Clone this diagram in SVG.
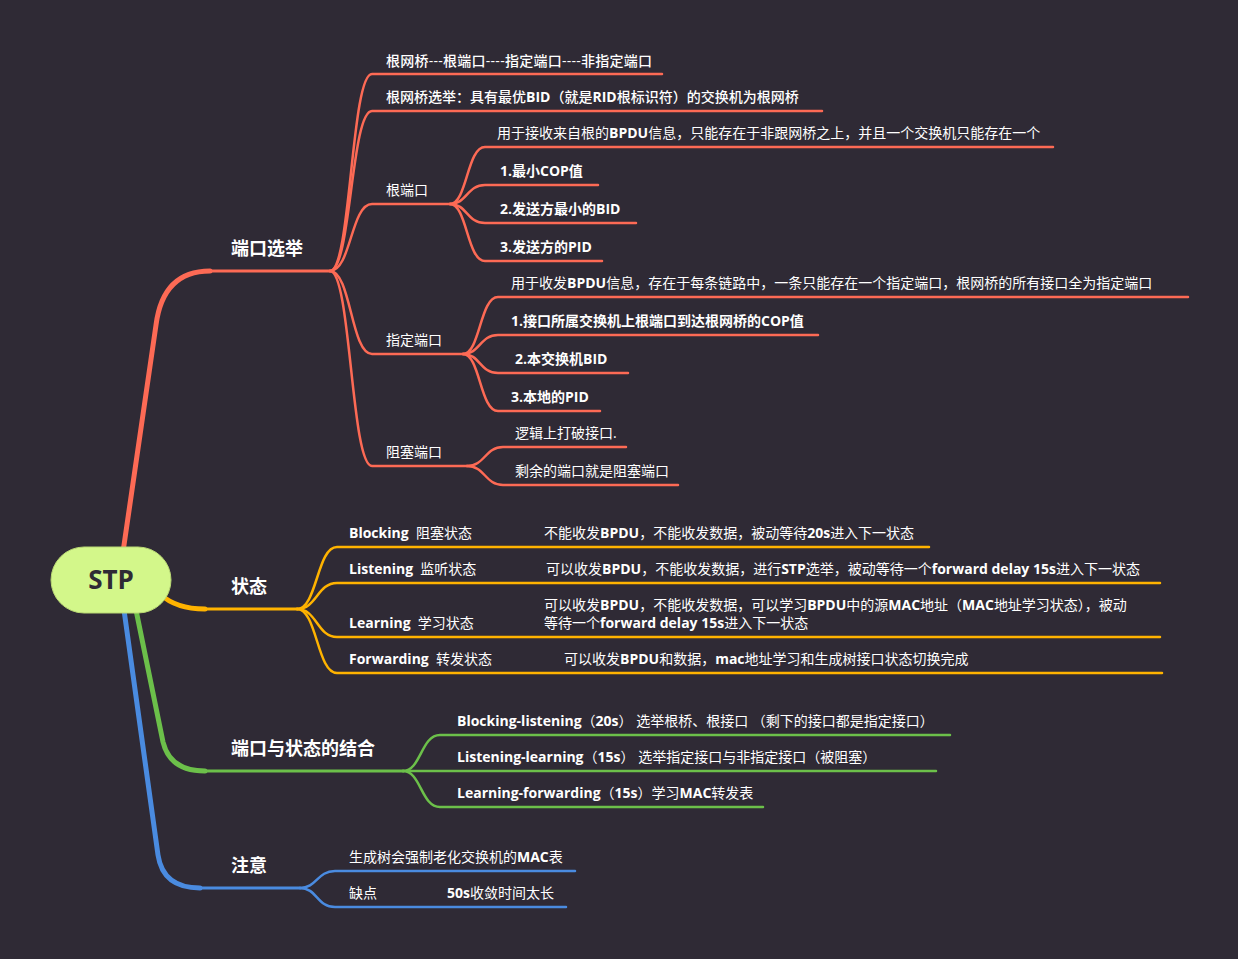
<svg xmlns="http://www.w3.org/2000/svg" width="1238" height="959" viewBox="0 0 1238 959">
<style>
text{font-family:"Open Sans","Noto Sans CJK SC",sans-serif;fill:#ffffff;font-size:14px;font-weight:400;white-space:pre}
.b{font-weight:700}
.m{font-weight:500}
.main{font-size:18px;font-weight:700}
.root{font-size:26px;font-weight:700;fill:#2f2a35}
.l{fill:none;stroke-linecap:round}
.red{stroke:#fd6a55}
.yel{stroke:#ffb300}
.grn{stroke:#6cc04a}
.blu{stroke:#4a8be0}
.thick{stroke-width:5}
.mid{stroke-width:3}
.thin{stroke-width:2.5}
</style>
<rect width="1238" height="959" fill="#2f2a35"/>
<g id="connectors">
<path class="l red thick" d="M123,552 L156,325 Q163,271 210,271"/>
<path class="l red mid" d="M205,271 H330"/>
<path class="l yel thick" d="M160,594 Q176,609 205,609"/>
<path class="l yel mid" d="M200,609 H297"/>
<path class="l grn thick" d="M136,610 L163,742 Q170,771 205,771"/>
<path class="l grn mid" d="M200,771 H403"/>
<path class="l blu thick" d="M124,610 L158,855 Q163,888 200,888"/>
<path class="l blu mid" d="M195,888 H300"/>
<g class="l red thin">
<path d="M330,271 C351,271 351,74 372,74 H662"/>
<path d="M330,271 C351,271 351,111 372,111 H822"/>
<path d="M330,271 C351,271 351,204 372,204 H450"/>
<path d="M330,271 C351,271 351,354 372,354 H463"/>
<path d="M330,271 C351,271 351,466 372,466 H467"/>
<path d="M450,204 C467,204 467,147 485,147 H1053"/>
<path d="M450,204 C467,204 467,185 485,185 H598"/>
<path d="M450,204 C467,204 467,223 485,223 H636"/>
<path d="M450,204 C467,204 467,261 485,261 H602"/>
<path d="M463,354 C480,354 480,297 498,297 H1188"/>
<path d="M463,354 C480,354 480,335 498,335 H818"/>
<path d="M463,354 C480,354 480,373 498,373 H628"/>
<path d="M463,354 C480,354 480,411 498,411 H600"/>
<path d="M467,466 C485,466 485,447 503,447 H626"/>
<path d="M467,466 C485,466 485,485 503,485 H678"/>
</g>
<g class="l yel thin">
<path d="M297,609 C317,609 317,547 337,547 H929"/>
<path d="M297,609 C317,609 317,583 337,583 H1160"/>
<path d="M297,609 C317,609 317,637 337,637 H1160"/>
<path d="M297,609 C317,609 317,673 337,673 H1162"/>
</g>
<g class="l grn thin">
<path d="M403,771 C421,771 421,735 440,735 H950"/>
<path d="M403,771 H936"/>
<path d="M403,771 C421,771 421,807 440,807 H763"/>
</g>
<g class="l blu thin">
<path d="M300,888 C317,888 317,871 335,871 H575"/>
<path d="M300,888 C317,888 317,907 335,907 H566"/>
</g>
</g>
<g id="root">
<rect x="51" y="547" width="120" height="66" rx="33" fill="#d3f78a" stroke="#b9d874" stroke-width="1"/>
<text class="root" x="111" y="589" text-anchor="middle">STP</text>
</g>
<g id="port-election">
<text class="main" x="231" y="255">端口选举</text>
<text class="m" x="386" y="66" textLength="266">根网桥---根端口----指定端口----非指定端口</text>
<text class="m" x="386" y="102">根网桥选举：具有最优<tspan class="b">BID</tspan>（就是<tspan class="b">RID</tspan>根标识符）的交换机为根网桥</text>
</g>
<g id="root-port">
<text x="386" y="195">根端口</text>
<text x="497" y="138">用于接收来自根的<tspan class="b">BPDU</tspan>信息，只能存在于非跟网桥之上，并且一个交换机只能存在一个</text>
<text class="b" x="500" y="176">1.最小COP值</text>
<text class="b" x="500" y="214">2.发送方最小的BID</text>
<text class="b" x="500" y="252">3.发送方的PID</text>
</g>
<g id="designated-port">
<text x="386" y="345">指定端口</text>
<text x="511" y="288">用于收发<tspan class="b">BPDU</tspan>信息，存在于每条链路中，一条只能存在一个指定端口，根网桥的所有接口全为指定端口</text>
<text class="b" x="511" y="326">1.接口所属交换机上根端口到达根网桥的COP值</text>
<text class="b" x="515" y="364">2.本交换机BID</text>
<text class="b" x="511" y="402">3.本地的PID</text>
</g>
<g id="blocked-port">
<text x="386" y="457">阻塞端口</text>
<text x="515" y="438">逻辑上打破接口.</text>
<text x="515" y="476">剩余的端口就是阻塞端口</text>
</g>
<g id="states">
<text class="main" x="231" y="593">状态</text>
<text x="349" y="538"><tspan class="b">Blocking</tspan>  阻塞状态</text>
<text x="544" y="538">不能收发<tspan class="b">BPDU</tspan>，不能收发数据，被动等待<tspan class="b">20s</tspan>进入下一状态</text>
<text x="349" y="574"><tspan class="b">Listening</tspan>  监听状态</text>
<text x="546" y="574">可以收发<tspan class="b">BPDU</tspan>，不能收发数据，进行<tspan class="b">STP</tspan>选举，被动等待一个<tspan class="b">forward delay 15s</tspan>进入下一状态</text>
<text x="349" y="628"><tspan class="b">Learning</tspan>  学习状态</text>
<text x="544" y="610">可以收发<tspan class="b">BPDU</tspan>，不能收发数据，可以学习<tspan class="b">BPDU</tspan>中的源<tspan class="b">MAC</tspan>地址（<tspan class="b">MAC</tspan>地址学习状态），被动</text>
<text x="544" y="628">等待一个<tspan class="b">forward delay 15s</tspan>进入下一状态</text>
<text x="349" y="664"><tspan class="b">Forwarding</tspan>  转发状态</text>
<text x="564" y="664">可以收发<tspan class="b">BPDU</tspan>和数据，<tspan class="b">mac</tspan>地址学习和生成树接口状态切换完成</text>
</g>
<g id="combination">
<text class="main" x="231" y="755">端口与状态的结合</text>
<text x="457" y="726"><tspan class="b">Blocking-listening</tspan>（<tspan class="b">20s</tspan>） 选举根桥、根接口 （剩下的接口都是指定接口）</text>
<text x="457" y="762"><tspan class="b">Listening-learning</tspan>（<tspan class="b">15s</tspan>） 选举指定接口与非指定接口（被阻塞）</text>
<text x="457" y="798"><tspan class="b">Learning-forwarding</tspan>（<tspan class="b">15s</tspan>）学习<tspan class="b">MAC</tspan>转发表</text>
</g>
<g id="notes">
<text class="main" x="231" y="872">注意</text>
<text x="349" y="862">生成树会强制老化交换机的<tspan class="b">MAC</tspan>表</text>
<text x="349" y="898">缺点</text>
<text x="447" y="898"><tspan class="b">50s</tspan>收敛时间太长</text>
</g>
</svg>
